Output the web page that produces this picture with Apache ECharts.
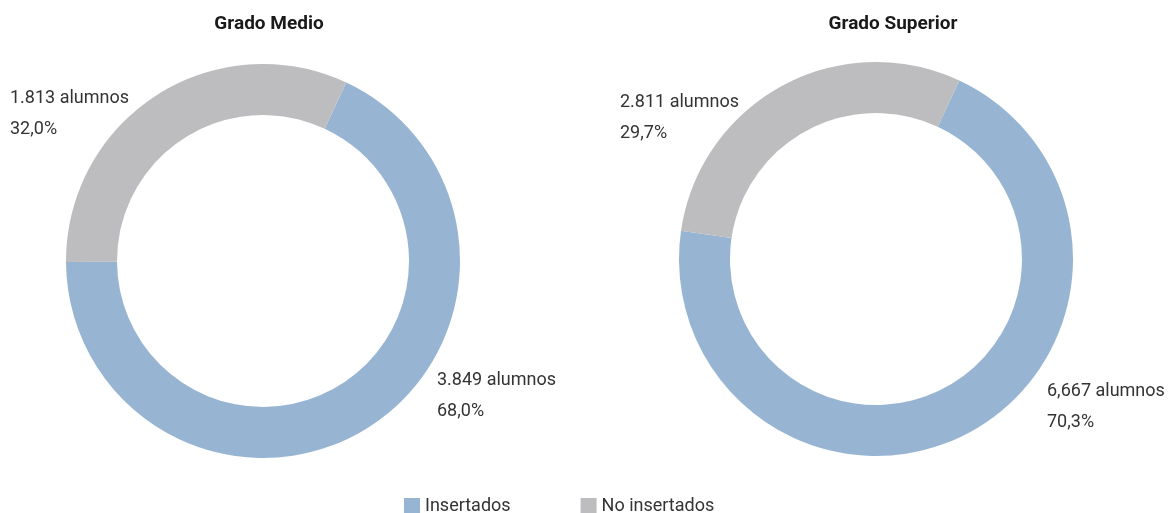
<!DOCTYPE html>
<html>
<head>
<meta charset="utf-8">
<script src="https://cdn.jsdelivr.net/npm/echarts@6/dist/echarts.min.js"></script>
<style>
  html, body { margin: 0; padding: 0; background: #fff; }
  #chart { width: 1170px; height: 513px; }
</style>
</head>
<body>
<div id="chart"></div>
<script>
// Inserción laboral por grado
const titulos = ['Grado Medio', 'Grado Superior'];
const categorias = ['Insertados', 'No insertados'];
const gradoMedio = [3849, 1813];
const gradoSuperior = [6667, 2811];
// Texto de las cifras tal como se publica
const textoMedio = ['3.849', '1.813'];
const textoSuperior = ['6,667', '2.811'];
const colores = ['#97B5D3', '#BDBDBF'];

const FONT = "Roboto, 'Liberation Sans', sans-serif";
const TEXT = '#333333';

const centros = [[263, 261], [876, 259]];
// Posición de las etiquetas (esquina superior izquierda) por gráfico y sector
const posEtiquetas = [
  [[437, 365], [10, 83]],
  [[1047, 376], [620, 87]]
];

function serie(idx, valores, textos) {
  const total = valores.reduce((a, b) => a + b, 0);
  return {
    type: 'pie',
    silent: true,
    center: centros[idx],
    radius: [146, 197],
    startAngle: 65,
    clockwise: true,
    avoidLabelOverlap: false,
    label: {
      show: true,
      position: 'outside',
      color: TEXT,
      fontFamily: FONT,
      fontSize: 18,
      lineHeight: 31,
      align: 'left',
      formatter: function (p) {
        const pct = (valores[p.dataIndex] / total * 100).toFixed(1).replace('.', ',');
        return textos[p.dataIndex] + ' alumnos\n' + pct + '%';
      }
    },
    labelLine: { show: false },
    labelLayout: function (p) {
      const pos = posEtiquetas[idx][p.dataIndex];
      return { x: pos[0], y: pos[1], align: 'left', verticalAlign: 'top', hideOverlap: false };
    },
    data: valores.map((v, i) => ({
      name: categorias[i],
      value: v,
      itemStyle: { color: colores[i] }
    }))
  };
}

const chart = echarts.init(document.getElementById('chart'), null, { renderer: 'canvas' });
chart.setOption({
  animation: false,
  backgroundColor: '#ffffff',
  title: [
    {
      text: titulos[0], left: 264, top: 10, textAlign: 'center',
      textStyle: { fontFamily: FONT, fontSize: 19, fontWeight: 'bold', color: '#1a1a1a' }
    },
    {
      text: titulos[1], left: 888, top: 10, textAlign: 'center',
      textStyle: { fontFamily: FONT, fontSize: 19, fontWeight: 'bold', color: '#1a1a1a' }
    }
  ],
  legend: {
    top: 492,
    left: 399,
    itemWidth: 16,
    itemHeight: 16,
    itemGap: 70,
    icon: 'rect',
    selectedMode: false,
    textStyle: { fontFamily: FONT, fontSize: 18, color: TEXT },
    data: categorias
  },
  series: [
    serie(0, gradoMedio, textoMedio),
    serie(1, gradoSuperior, textoSuperior)
  ]
});
</script>
</body>
</html>
